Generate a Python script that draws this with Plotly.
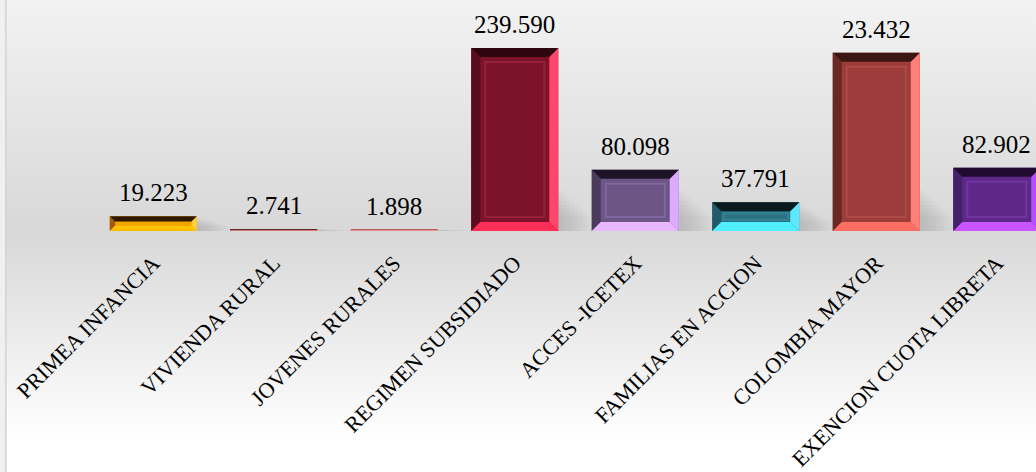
import base64
import plotly.graph_objects as go

# ---------------- data ----------------
categories = ["PRIMEA INFANCIA", "VIVIENDA RURAL", "JOVENES RURALES", "REGIMEN SUBSIDIADO",
              "ACCES -ICETEX", "FAMILIAS EN ACCION", "COLOMBIA MAYOR", "EXENCION CUOTA LIBRETA"]
values = [19223, 2741, 1898, 239590, 80098, 37791, 233432, 82902]   # bar heights as drawn
value_labels = ["19.223", "2.741", "1.898", "239.590", "80.098", "37.791", "23.432", "82.902"]

# bevel palette per bar: face, top, left, right, bottom, inner frame
face_colors = ["#f0a400", "#8a4040", "#d87a7a", "#7c1329", "#6d5586", "#2a7283", "#9c3d3b", "#5e2889"]
top_colors = ["#2e1800", "#4a2020", "#8a4a4a", "#2e0610", "#1e1428", "#0a1a1e", "#3a1512", "#200a30"]
left_colors = ["#a05a10", "#6a3030", "#b06060", "#5a0c1e", "#4a3a5c", "#225a66", "#6a2824", "#42206a"]
right_colors = ["#ffd040", "#e08080", "#ff9a9a", "#ff4568", "#dcaaff", "#5ee8ff", "#ff8078", "#b64cff"]
bottom_colors = ["#ffc000", "#f08c8c", "#ffa0a0", "#ff2e58", "#e8b8ff", "#50eeff", "#ff6e62", "#c855ff"]
inner_colors = ["#ffc000", "#8a4040", "#d87a7a", "#94203a", "#7e66a0", "#348394", "#ad4a46", "#6f35a0"]

# ---------------- layout constants ----------------
W, H = 1036, 472
ML, MR, MT, MB = 93, 0, 0, 241
PLOT_W = W - ML - MR
PLOT_H = H - MT - MB
PX_PER_CAT = 120.5
XMIN = -0.5
XMAX = XMIN + PLOT_W / PX_PER_CAT
YMAX = 302400
BAR_W = 87 / PX_PER_CAT
PPU_Y = PLOT_H / YMAX
FONT = "Liberation Serif"

x = list(range(len(categories)))

fig = go.Figure()
fig.add_trace(go.Bar(
    x=x, y=values, marker=dict(color=face_colors, line=dict(width=0)),
    width=BAR_W, hoverinfo="skip", showlegend=False))


def path(pts):
    return "M " + " L ".join(f"{px},{py}" for px, py in pts) + " Z"


# bevel shapes derived from the data values
shapes = []
for i, v in enumerate(values):
    h_px = v * PPU_Y
    b = min(9.0, h_px * 0.36)
    bx = b / PX_PER_CAT
    by = b / PPU_Y
    x0, x1 = i - BAR_W / 2, i + BAR_W / 2
    y0, y1 = 0, v
    # soft shadow to the right of the bar near its base (overlapping faint strips)
    sh_h = min(h_px, 45)
    for k in range(1, 9):
        shapes.append(dict(type="path", xref="x", yref="y", layer="below",
                           path=path([(x1, 0), (x1 + 4 * k / PX_PER_CAT, 0),
                                      (x1 + 4 * k / PX_PER_CAT, sh_h * (1 - k / 12) / PPU_Y),
                                      (x1, sh_h * (1 - k / 12) / PPU_Y)]),
                           fillcolor="rgba(110,110,110,0.035)", line=dict(width=0)))

    shapes.append(dict(type="path", xref="x", yref="y", line=dict(width=0), fillcolor=left_colors[i],
                       path=path([(x0, y0), (x0, y1), (x0 + bx, y1 - by), (x0 + bx, y0 + by)])))
    shapes.append(dict(type="path", xref="x", yref="y", line=dict(width=0), fillcolor=right_colors[i],
                       path=path([(x1, y0), (x1, y1), (x1 - bx, y1 - by), (x1 - bx, y0 + by)])))
    shapes.append(dict(type="path", xref="x", yref="y", line=dict(width=0), fillcolor=top_colors[i],
                       path=path([(x0, y1), (x1, y1), (x1 - bx, y1 - by), (x0 + bx, y1 - by)])))
    shapes.append(dict(type="path", xref="x", yref="y", line=dict(width=0), fillcolor=bottom_colors[i],
                       path=path([(x0, y0), (x1, y0), (x1 - bx, y0 + by), (x0 + bx, y0 + by)])))
    if h_px > 25:
        ins = b + min(5.0, (h_px - 2 * b) * 0.2)
        ix = ins / PX_PER_CAT
        iy = ins / PPU_Y
        shapes.append(dict(type="rect", xref="x", yref="y", x0=x0 + ix, x1=x1 - ix,
                           y0=y0 + iy, y1=y1 - iy, fillcolor="rgba(0,0,0,0)",
                           line=dict(color=inner_colors[i], width=2)))

# background gradient over the whole figure
svg = f'''<svg xmlns="http://www.w3.org/2000/svg" width="{W}" height="{H}" viewBox="0 0 {W} {H}">
<defs><linearGradient id="g" x1="0" y1="0" x2="0" y2="1">
<stop offset="0" stop-color="#f2f2f2"/>
<stop offset="0.49" stop-color="#d8d8d8"/>
<stop offset="0.93" stop-color="#ffffff"/>
<stop offset="1" stop-color="#ffffff"/>
</linearGradient></defs>
<rect x="0" y="0" width="{W}" height="{H}" fill="url(#g)"/>
<rect x="0" y="0" width="5" height="{H}" fill="#f4efef"/>
<rect x="5" y="0" width="1.6" height="{H}" fill="#d6d3d3"/>
</svg>'''
uri = "data:image/svg+xml;base64," + base64.b64encode(svg.encode()).decode()

annotations = [dict(x=i, y=v, xref="x", yref="y", text=t, showarrow=False,
                    yanchor="bottom", xanchor="center", yshift=8,
                    font=dict(family=FONT, size=25, color="#000000"))
               for i, (v, t) in enumerate(zip(values, value_labels))]

fig.update_layout(
    template="none",
    width=W, height=H,
    margin=dict(l=ML, r=MR, t=MT, b=MB, pad=0),
    paper_bgcolor="rgba(0,0,0,0)", plot_bgcolor="rgba(0,0,0,0)",
    showlegend=False,
    bargap=1 - BAR_W,
    shapes=shapes,
    annotations=annotations,
    images=[dict(source=uri, xref="paper", yref="paper",
                 x=-ML / PLOT_W, y=1 + MT / PLOT_H, sizex=W / PLOT_W, sizey=H / PLOT_H,
                 xanchor="left", yanchor="top", sizing="stretch", layer="below")],
    xaxis=dict(range=[XMIN, XMAX], tickvals=x, ticktext=categories, tickangle=-45,
               showgrid=False, zeroline=False, showline=False, ticks="",
               tickfont=dict(family=FONT, size=22, color="#000000"),
               automargin=False, ticklabelstandoff=14, fixedrange=True),
    yaxis=dict(range=[0, YMAX], visible=False, showgrid=False, zeroline=False,
               automargin=False, fixedrange=True),
)

fig.write_html("out.html", config={"displayModeBar": False},
               post_script="document.body.style.margin='0';document.body.style.overflow='hidden';")
